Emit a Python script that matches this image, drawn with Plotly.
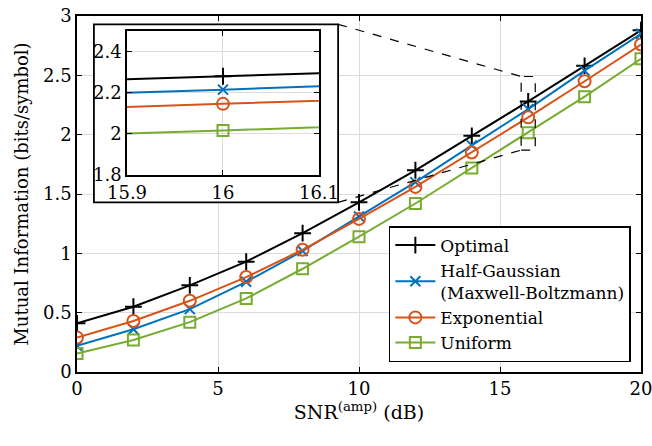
import plotly.graph_objects as go

# ---- data ----
snr_db = [0, 2, 4, 6, 8, 10, 12, 14, 16, 18, 20]
optimal = [0.41, 0.55, 0.73, 0.93, 1.17, 1.43, 1.70, 1.99, 2.28, 2.58, 2.88]
half_gaussian = [0.22, 0.36, 0.53, 0.76, 1.02, 1.31, 1.60, 1.91, 2.215, 2.54, 2.85]
exponential = [0.29, 0.43, 0.60, 0.80, 1.03, 1.29, 1.56, 1.85, 2.146, 2.45, 2.76]
uniform = [0.155, 0.27, 0.42, 0.62, 0.87, 1.14, 1.42, 1.72, 2.017, 2.32, 2.64]

names = ["Optimal", "Half-Gaussian<br>(Maxwell-Boltzmann)", "Exponential", "Uniform"]
series = [optimal, half_gaussian, exponential, uniform]
colors = ["#000000", "#0072BD", "#D95319", "#77AC30"]
symbols = ["cross-thin-open", "x-thin-open", "circle-open", "square-open"]
msizes = [12, 10, 12, 11]

main_xticks = [0, 5, 10, 15, 20]
main_yticks = [0, 0.5, 1, 1.5, 2, 2.5, 3]
inset_xticks = [15.9, 16, 16.1]
inset_yticks = [1.8, 2, 2.2, 2.4]

FONT = "DejaVu Serif"

fig = go.Figure()
for nm, ys, c, s, ms in zip(names, series, colors, symbols, msizes):
    mk = dict(symbol=s, size=ms, color=c, line=dict(color=c, width=2))
    fig.add_trace(go.Scatter(x=snr_db, y=ys, mode="lines+markers", name=nm,
                             line=dict(color=c, width=2), marker=mk,
                             xaxis="x", yaxis="y"))
for nm, ys, c, s, ms in zip(names, series, colors, symbols, msizes):
    mk = dict(symbol=s, size=ms, color=c, line=dict(color=c, width=2))
    fig.add_trace(go.Scatter(x=snr_db, y=ys, mode="lines+markers", name=nm,
                             line=dict(color=c, width=2), marker=mk,
                             xaxis="x2", yaxis="y2", showlegend=False))

axis_common = dict(showline=True, linecolor="black", linewidth=1.6, mirror="allticks",
                   ticks="inside", ticklen=5, tickwidth=1.2, tickcolor="black",
                   showgrid=True, gridcolor="#dcdcdc", gridwidth=1, zeroline=False,
                   automargin=False, ticklabeloverflow="allow",
                   tickfont=dict(family=FONT, size=18, color="black"))

# inset white box, connectors and zoom box (decorations)
fig.add_shape(type="rect", xref="x", yref="y", x0=0.6, x1=9.26, y0=1.43, y1=2.93,
              fillcolor="white", line=dict(color="black", width=1.8), layer="between")
fig.add_shape(type="rect", xref="x", yref="y", x0=15.75, x1=16.25, y0=1.87, y1=2.49,
              line=dict(color="black", width=1.2, dash="dash"), layer="above")
fig.add_shape(type="line", xref="x", yref="y", x0=9.26, x1=15.75, y0=2.93, y1=2.49,
              line=dict(color="black", width=1.2, dash="dash"), layer="above")
fig.add_shape(type="line", xref="x", yref="y", x0=9.26, x1=15.75, y0=1.43, y1=1.87,
              line=dict(color="black", width=1.2, dash="dash"), layer="above")

fig.update_layout(
    width=652, height=446,
    margin=dict(l=77, r=11, t=16, b=74, autoexpand=False),
    paper_bgcolor="white", plot_bgcolor="white",
    font=dict(family=FONT, size=18, color="black"),
    xaxis=dict(range=[0, 20], tickvals=main_xticks, domain=[0, 1],
               title=dict(text="SNR<sup>(amp)</sup> (dB)", font=dict(family=FONT, size=19), standoff=4),
               **axis_common),
    yaxis=dict(range=[0, 3], tickvals=main_yticks, domain=[0, 1],
               title=dict(text="Mutual Information (bits/symbol)", font=dict(family=FONT, size=18), standoff=10),
               **axis_common),
    xaxis2=dict(range=[15.9, 16.1], tickvals=inset_xticks, domain=[0.0887, 0.429],
                anchor="y2", **axis_common),
    yaxis2=dict(range=[1.8, 2.5], tickvals=inset_yticks, domain=[0.553, 0.958],
                anchor="x2", **axis_common),
    legend=dict(x=0.982, y=0.028, xanchor="right", yanchor="bottom",
                bgcolor="white", bordercolor="black", borderwidth=1.5,
                font=dict(family=FONT, size=17), tracegroupgap=0, itemwidth=40),
    showlegend=True,
)

fig.write_html("out.html")
